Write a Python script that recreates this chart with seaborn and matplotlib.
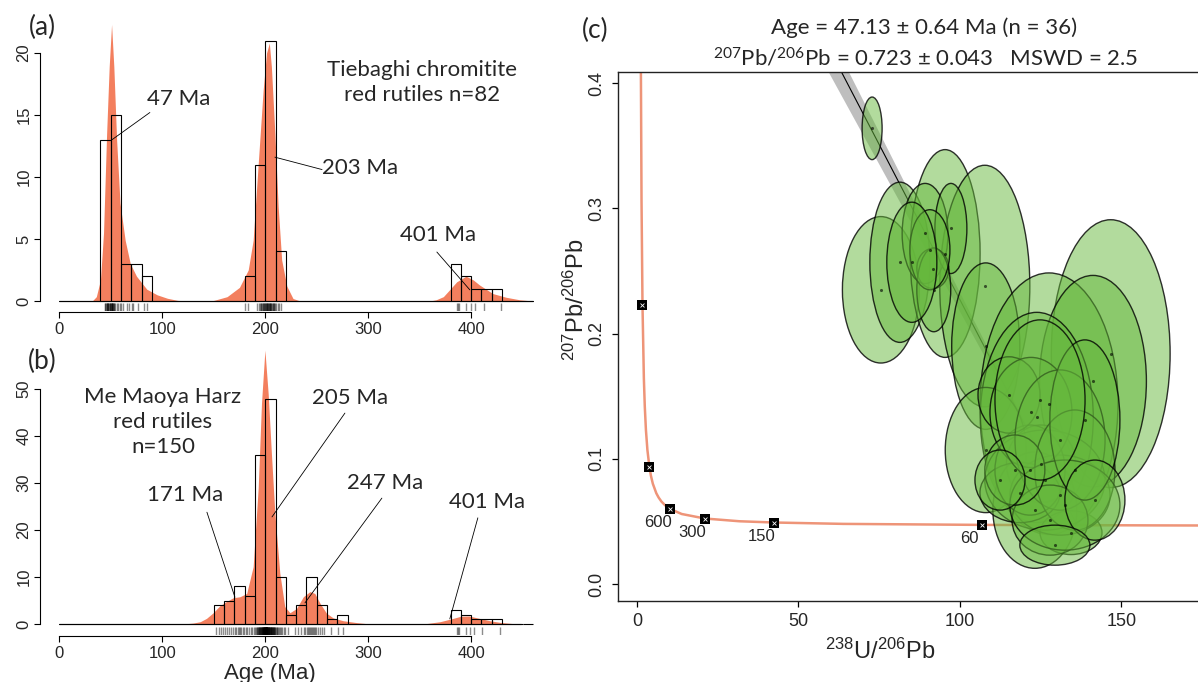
import numpy as np
import pandas as pd
import seaborn as sns
import matplotlib
matplotlib.use("Agg")
import matplotlib.pyplot as plt
from matplotlib.patches import Ellipse

sns.set_theme(style="ticks")
plt.rcParams["font.family"] = ["Liberation Sans", "DejaVu Sans"]
plt.rcParams["mathtext.default"] = "regular"
TXT = ["Lato", "DejaVu Sans"]
ORANGE = "#F37F5E"

# ── (a) Tiebaghi ages (Ma) ─────────────────────────────────────────────────────
ages_a = [44.0, 44.8, 45.4, 45.9, 46.3, 46.7, 47.0, 47.4, 47.8, 48.3, 48.8, 49.3, 49.7,
          50.2, 50.5, 50.8, 51.1, 51.4, 51.7, 52.0, 52.4, 52.8, 53.3, 54.5, 56.0, 57.5, 58.9, 59.5,
          62.0, 66.0, 68.0, 71.0, 72.0, 76.0, 82.0, 85.0,
          180.6, 183.5,
          192.0, 193.5, 194.8, 195.6, 196.4, 197.0, 197.6, 198.2, 198.7, 199.2, 199.7,
          200.2, 200.6, 201.0, 201.4, 201.8, 202.2, 202.6, 203.0, 203.4, 203.8, 204.2,
          204.6, 205.0, 205.5, 206.0, 206.6, 207.2, 207.8, 208.4, 209.0, 209.6,
          210.5, 212.0, 213.5, 215.5,
          386.5, 387.5, 388.5, 395.0, 399.5, 404.0, 412.0, 428.5]
kde_a_age = [0, 32, 36, 40, 43, 46, 48.5, 50.8, 53, 55.7, 59, 64, 69, 75, 85, 95, 105, 115, 125,
             148, 163, 175, 183.5, 188.3, 193, 198, 201.3, 204, 206, 209.4, 212.6, 216, 221, 227, 234,
             360, 366, 373, 379, 386, 395, 402, 408, 421, 434, 447, 460]
kde_a_h = [0, 0, 0.35, 1.7, 5.5, 13.5, 18.9, 22.3, 18.9, 13.0, 7.9, 4.9, 3.0, 2.0, 0.95, 0.5, 0.22, 0.05, 0,
           0, 0.35, 1.1, 2.5, 4.9, 10.8, 17.0, 20.0, 20.8, 18.9, 13.5, 7.6, 3.3, 1.2, 0.2, 0,
           0, 0.1, 0.35, 0.9, 1.55, 2.0, 1.7, 1.3, 0.6, 0.3, 0.1, 0]

# ── (b) Me Maoya ages (Ma) ─────────────────────────────────────────────────────
ages_b = [152, 155, 157.5, 159,
          161, 163, 165, 167, 169,
          170.5, 172, 173.5, 174.5, 175.5, 176.5, 178, 179.5,
          181, 182.5, 184, 186, 187.5, 189,
          190.5, 191.2, 191.8, 192.3, 192.8, 193.2, 193.6, 194.0, 194.4, 194.7, 195.0, 195.3,
          195.6, 195.9, 196.2, 196.5, 196.8, 197.0, 197.2, 197.4, 197.6, 197.8, 198.0, 198.2,
          198.4, 198.6, 198.8, 199.0, 199.1, 199.2, 199.3, 199.4, 199.5, 199.6, 199.7, 199.8,
          200.1, 200.2, 200.3, 200.4, 200.5, 200.6, 200.7, 200.8, 200.9, 201.0, 201.1, 201.2,
          201.3, 201.4, 201.5, 201.6, 201.7, 201.8, 201.9, 202.0, 202.2, 202.4, 202.6, 202.8,
          203.0, 203.2, 203.4, 203.6, 203.8, 204.0, 204.3, 204.6, 204.9, 205.2, 205.5, 205.8,
          206.1, 206.4, 206.7, 207.0, 207.3, 207.6, 207.9, 208.2, 208.5, 208.8, 209.2, 209.6,
          210.4, 211, 211.8, 212.5, 213.3, 214.2, 215, 216.4, 217.8, 219.5,
          222, 228.5,
          231.5, 235, 237.5, 239,
          240.5, 241.5, 242.5, 243.5, 244.5, 245.5, 246.5, 247.5, 248.5, 249.5,
          251, 253.5, 255, 257,
          264,
          270.5, 276,
          386, 387, 388.5, 395, 398.5, 402.5, 410.5, 428]
kde_b_age = [0, 120, 130, 137, 143, 149.5, 156, 162.5, 169, 175.4, 182, 188.3, 193.2, 196.4, 199.7,
             202.9, 206.1, 209.4, 214.2, 219, 224, 230.4, 237, 243.4, 248.2, 253, 259.5, 266,
             275.7, 288.7, 302, 350, 357, 370, 382.5, 390, 398, 408, 418, 428, 440, 448]
kde_b_h = [0, 0, 0.2, 0.5, 1.2, 2.4, 3.9, 4.8, 5.6, 5.8, 6.5, 12.2, 29.0, 47.0, 58.3,
           49.0, 36.0, 23.5, 10.8, 3.7, 2.4, 3.3, 5.8, 6.9, 6.5, 4.5, 2.3, 1.3,
           0.7, 0.3, 0, 0, 0.1, 0.5, 1.2, 1.65, 1.7, 1.2, 0.7, 0.35, 0.1, 0]
BINS = np.arange(0, 470, 10)

# ── (c) Tera-Wasserburg data ───────────────────────────────────────────────────
conc_x = [1.163, 1.387, 1.687, 2.111, 2.394, 2.749, 3.206, 3.817, 4.292, 4.888, 5.960, 6.674,
          7.568, 8.718, 10.25, 13.83, 20.99, 31.73, 42.48, 63.96, 106.9, 160.7, 178.6]
conc_y = [0.4251, 0.3059, 0.2226, 0.1643, 0.1419, 0.1230, 0.1071, 0.0936, 0.0865, 0.0801, 0.0725,
          0.0691, 0.0658, 0.0628, 0.0599, 0.0559, 0.0523, 0.0501, 0.0491, 0.0480, 0.0472,
          0.0468, 0.0467]
mark_x = [1.687, 3.817, 10.25, 20.99, 42.48, 106.9]
mark_y = [0.2226, 0.0936, 0.0599, 0.0523, 0.0491, 0.0472]
mark_lab = ["", "", "600", "300", "150", "60"]
disc_x = [0, 136.3]
disc_y = [0.723, 0.047]
band_lo = [0.688, 0.047]
band_hi = [0.745, 0.047]

ell_x = [72.8, 75.5, 81.4, 95.4, 107.7, 89.2, 97.2, 91.6, 91.9, 108.0, 146.7, 127.6,
         141.2, 123.8, 108.0, 125.1, 123.2, 134.4, 126.3, 131.0, 118.6, 121.7, 115.2, 122.0,
         131.0, 135.6, 127.9, 132.5, 117.0, 138.7, 124.8, 112.4, 90.7, 85.1, 141.8, 129.4]
ell_y = [0.364, 0.235, 0.257, 0.264, 0.238, 0.280, 0.284, 0.252, 0.235, 0.190, 0.184, 0.144,
         0.162, 0.133, 0.107, 0.096, 0.059, 0.041, 0.083, 0.071, 0.073, 0.091, 0.151, 0.137,
         0.115, 0.091, 0.051, 0.063, 0.091, 0.131, 0.147, 0.083, 0.267, 0.257, 0.067, 0.031]
ell_w = [6.2, 23.8, 18.6, 21.7, 27.9, 14.2, 9.9, 9.9, 10.5, 21.1, 36.8, 42.7,
         33.1, 35.0, 25.1, 21.4, 26.0, 19.2, 37.2, 31.0, 24.8, 21.7, 19.2, 25.4,
         27.9, 24.8, 23.5, 34.1, 18.6, 21.7, 27.9, 15.5, 12.4, 15.5, 18.6, 21.7]
ell_h = [0.050, 0.117, 0.128, 0.166, 0.193, 0.080, 0.072, 0.032, 0.067, 0.133, 0.214, 0.209,
         0.169, 0.168, 0.100, 0.062, 0.093, 0.035, 0.080, 0.064, 0.048, 0.072, 0.061, 0.088,
         0.112, 0.096, 0.056, 0.072, 0.056, 0.128, 0.128, 0.048, 0.064, 0.096, 0.064, 0.032]

W, H = 1198, 682
fig = plt.figure(figsize=(W / 100, H / 100), dpi=100)
fig.patch.set_facecolor("white")


def px_axes(left, top, right, bottom):
    return fig.add_axes([left / W, 1 - bottom / H, (right - left) / W, (bottom - top) / H])


def age_panel(ax, ages, kx, kh, ytop, ystep, ylim):
    ax.fill_between(kx, kh, color=ORANGE, lw=0, zorder=1)
    sns.histplot(x=ages, bins=BINS, fill=False, color="black", linewidth=0.8, ax=ax, zorder=2)
    sns.rugplot(x=ages, height=0.028, color="black", alpha=0.45, lw=0.9, ax=ax)
    ax.plot([0, kx[-1]], [0, 0], color="black", lw=0.8, zorder=3)
    ax.set_xlim(-18.7, 462)
    ax.set_ylim(*ylim)
    sns.despine(ax=ax)
    for s in ["left", "bottom"]:
        ax.spines[s].set_color("black")
        ax.spines[s].set_linewidth(0.8)
    ax.spines["left"].set_bounds(0, ytop)
    ax.spines["bottom"].set_bounds(0, 400)
    ax.spines["bottom"].set_position(("outward", 1))
    ax.set_xticks([0, 100, 200, 300, 400])
    ax.set_yticks(np.arange(0, ytop + 1, ystep))
    ax.tick_params(length=4.3, width=0.8, color="black", labelsize=12, pad=2.5)
    ax.tick_params(axis="y", labelrotation=90, pad=2)
    for lab in ax.get_yticklabels():
        lab.set_va("center")
    ax.set_ylabel("")
    ax.set_xlabel("")
    ax.set_facecolor("white")


def note(ax, label, txy, p0, p1):
    ax.text(*txy, label, ha="center", va="center", fontsize=16, family=TXT)
    ax.plot([p0[0], p1[0]], [p0[1], p1[1]], color="black", lw=0.6, zorder=4)


# ── (a) ────────────────────────────────────────────────────────────────────────
ax_a = px_axes(40, 20, 535, 311)
age_panel(ax_a, ages_a, kde_a_age, kde_a_h, 20, 5, (-0.806, 22.66))
note(ax_a, "47 Ma", (116.2, 16.3), (88, 15.2), (51.1, 13.0))
note(ax_a, "203 Ma", (292, 10.7), (255.2, 10.6), (209.4, 11.6))
note(ax_a, "401 Ma", (367.7, 5.3), (366.7, 3.95), (398.7, 0.9))
ax_a.text(352.2, 17.6, "Tiebaghi chromitite\nred rutiles n=82", ha="center", va="center",
          fontsize=16, family=TXT, linespacing=1.3)

# ── (b) ────────────────────────────────────────────────────────────────────────
ax_b = px_axes(40, 345, 535, 635)
age_panel(ax_b, ages_b, kde_b_age, kde_b_h, 50, 10, (-2.34, 59.4))
note(ax_b, "205 Ma", (282.2, 48.1), (277.4, 44.9), (206.6, 22.8))
note(ax_b, "247 Ma", (316.2, 30.0), (313.3, 26.8), (238.6, 4.5))
note(ax_b, "171 Ma", (122.0, 27.4), (143.4, 23.8), (170.6, 5.7))
note(ax_b, "401 Ma", (415.2, 26.0), (406.5, 22.6), (379.3, 1.1))
ax_b.text(100.7, 43.0, "Me Maoya Harz\nred rutiles\nn=150", ha="center", va="center",
          fontsize=16, family=TXT, linespacing=1.3)
ax_b.set_xlabel("Age (Ma)", fontsize=16)
ax_b.xaxis.set_label_coords(230 / 495, -0.095)

# ── (c) ────────────────────────────────────────────────────────────────────────
ax_c = px_axes(618, 72, 1205, 601)
ax_c.fill_between(disc_x, band_lo, band_hi, color="#BEBEBE", lw=0, zorder=1)
sns.lineplot(x=disc_x, y=disc_y, color="black", lw=0.8, ax=ax_c, zorder=1.5)
sns.lineplot(x=conc_x, y=conc_y, sort=False, color="#EE9478", lw=1.8, ax=ax_c, zorder=1.2)
for i, (x, y, w, h) in enumerate(zip(ell_x, ell_y, ell_w, ell_h)):
    ax_c.add_patch(Ellipse((x, y), w, h, facecolor=(0.40, 0.72, 0.24, 0.5),
                           edgecolor=(0, 0, 0, 0.8), lw=1.0, zorder=2 + i * 0.01))
sns.scatterplot(x=ell_x, y=ell_y, color="black", s=5, linewidth=0, alpha=0.6, ax=ax_c, zorder=3)
sns.scatterplot(x=mark_x, y=mark_y, marker="s", color="black", s=45, linewidth=0, ax=ax_c, zorder=4)
sns.scatterplot(x=mark_x, y=mark_y, marker="x", color="white", s=8, linewidth=0.6, ax=ax_c, zorder=5)
for x, y, lab in zip(mark_x, mark_y, mark_lab):
    if lab:
        ax_c.annotate(lab, (x, y), xytext=(-9, -10), textcoords="offset points",
                      ha="center", va="center", fontsize=12)
ax_c.set_xlim(-5.9, 175.9)
ax_c.set_ylim(-0.0136, 0.409)
ax_c.set_xticks([0, 50, 100, 150])
ax_c.set_yticks([0.0, 0.1, 0.2, 0.3, 0.4])
ax_c.set_yticklabels(["0.0", "0.1", "0.2", "0.3", "0.4"])
ax_c.tick_params(length=4.3, width=0.9, color="black", labelsize=13, pad=4)
ax_c.tick_params(axis="y", labelrotation=90, pad=5)
for lab in ax_c.get_yticklabels():
    lab.set_va("center")
for s in ["left", "bottom", "top"]:
    ax_c.spines[s].set_color("#222222")
    ax_c.spines[s].set_linewidth(1.0)
ax_c.spines["right"].set_visible(False)
ax_c.set_xlabel(r"$^{238}$U/$^{206}$Pb", fontsize=17)
ax_c.xaxis.set_label_coords(262 / 587, -0.072)
ax_c.set_ylabel(r"$^{207}$Pb/$^{206}$Pb", fontsize=17)
ax_c.yaxis.set_label_coords(-0.05, 0.569)

fig.text(924 / W, 1 - 28 / H, "Age = 47.13 ± 0.64 Ma (n = 36)", ha="center", va="center",
         fontsize=16, family=TXT)
fig.text(926 / W, 1 - 58 / H, r"$^{207}$Pb/$^{206}$Pb = 0.723 ± 0.043   MSWD = 2.5",
         ha="center", va="center", fontsize=16, family=TXT)

for lab, (x, y) in {"(a)": (42, 27), "(b)": (42, 361), "(c)": (595, 30)}.items():
    fig.text(x / W, 1 - y / H, lab, ha="center", va="center", fontsize=19, family=TXT)

fig.savefig("out.png", dpi=100, facecolor="white")
